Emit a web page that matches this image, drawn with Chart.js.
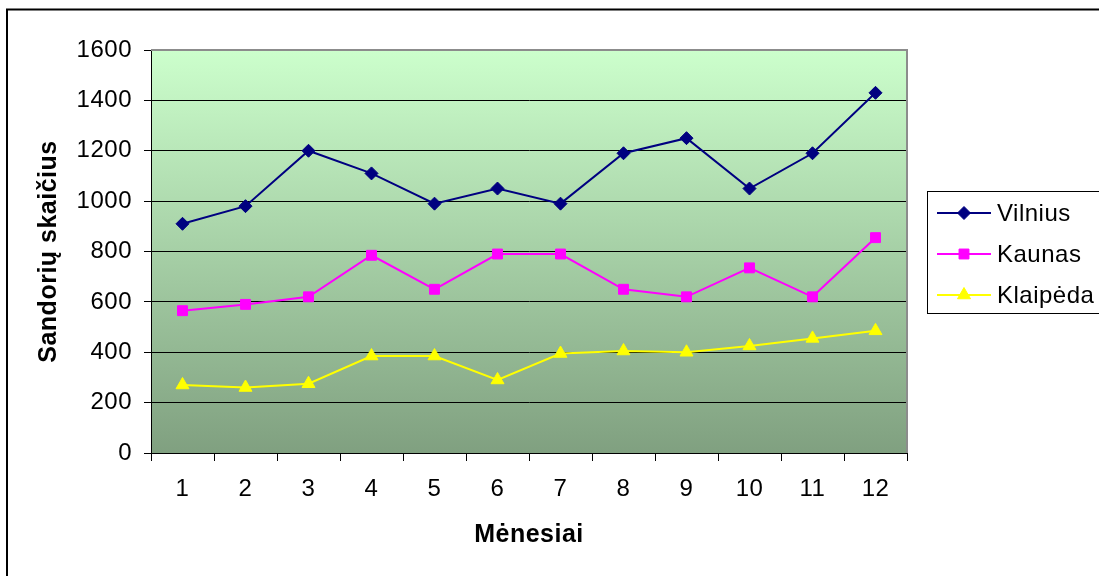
<!DOCTYPE html>
<html lang="lt">
<head>
<meta charset="utf-8">
<title>Sandorių skaičius pagal mėnesius</title>
<script src="https://cdn.jsdelivr.net/npm/chart.js@4/dist/chart.umd.min.js"></script>
<style>
  html, body { margin: 0; padding: 0; background: #ffffff; }
  #wrap { width: 1099px; height: 576px; }
</style>
</head>
<body>
<div id="wrap"><canvas id="chart" width="1099" height="576"></canvas></div>
<script>
// Months and monthly deal counts per city
const months = ['1', '2', '3', '4', '5', '6', '7', '8', '9', '10', '11', '12'];
const vilnius = [910, 980, 1200, 1110, 990, 1050, 990, 1190, 1250, 1050, 1190, 1430];
const kaunas = [565, 590, 620, 785, 650, 790, 790, 650, 620, 735, 620, 855];
const klaipeda = [270, 260, 275, 385, 385, 290, 395, 405, 400, 425, 455, 485];
const yTicks = [0, 200, 400, 600, 800, 1000, 1200, 1400, 1600];

const FONT = '"Liberation Sans", Arial, sans-serif';

// Outer frame, gradient plot background and grey plot border
const framePlugin = {
  id: 'frame',
  beforeDraw(chart) {
    const ctx = chart.ctx;
    const a = chart.chartArea;
    // slightly wider letter spacing for all chart text
    ctx.letterSpacing = '0.5px';
    ctx.save();
    ctx.fillStyle = '#ffffff';
    ctx.fillRect(0, 0, chart.width, chart.height);
    ctx.strokeStyle = '#000000';
    ctx.lineWidth = 2;
    ctx.strokeRect(7, 9.5, chart.width + 50, chart.height + 50);
    const g = ctx.createLinearGradient(0, a.top, 0, a.bottom);
    g.addColorStop(0, '#ccffcc');
    g.addColorStop(1, '#80a080');
    ctx.fillStyle = g;
    ctx.fillRect(a.left, a.top, a.right - a.left, a.bottom - a.top);
    ctx.restore();
  },
  beforeDatasetsDraw(chart) {
    const ctx = chart.ctx;
    const a = chart.chartArea;
    ctx.save();
    ctx.strokeStyle = '#8c8c8c';
    ctx.lineWidth = 2;
    ctx.beginPath();
    ctx.moveTo(a.left, a.top);
    ctx.lineTo(a.right, a.top);
    ctx.lineTo(a.right, a.bottom);
    ctx.stroke();
    ctx.restore();
  }
};

// Boxed legend at the right, built from the datasets
const legendPlugin = {
  id: 'boxLegend',
  afterDraw(chart) {
    const ctx = chart.ctx;
    const box = { x: 927.5, y: 191.5, w: 300, h: 122 };
    ctx.save();
    ctx.strokeStyle = '#000000';
    ctx.lineWidth = 1;
    ctx.strokeRect(box.x, box.y, box.w, box.h);
    const rows = [213, 254, 295];
    chart.data.datasets.forEach((ds, i) => {
      const y = rows[i];
      ctx.strokeStyle = ds.borderColor;
      ctx.lineWidth = ds.borderWidth;
      ctx.beginPath();
      ctx.moveTo(937, y);
      ctx.lineTo(991, y);
      ctx.stroke();
      ctx.fillStyle = ds.pointBackgroundColor;
      ctx.strokeStyle = ds.pointBorderColor;
      ctx.lineWidth = 1;
      Chart.helpers.drawPoint(ctx, {
        pointStyle: ds.pointStyle,
        radius: ds.pointRadius,
        rotation: 0,
        borderWidth: 1
      }, 964, y);
      ctx.fillStyle = '#000000';
      ctx.font = '24px ' + FONT;
      ctx.textAlign = 'left';
      ctx.textBaseline = 'middle';
      ctx.fillText(ds.label, 997, y + 1);
    });
    ctx.restore();
  }
};

new Chart(document.getElementById('chart'), {
  type: 'line',
  data: {
    labels: months,
    datasets: [
      {
        label: 'Vilnius',
        data: vilnius,
        borderColor: '#000080',
        backgroundColor: '#000080',
        borderWidth: 2,
        pointStyle: 'rectRot',
        pointRadius: 6.5,
        pointBackgroundColor: '#000080',
        pointBorderColor: '#000080',
        pointBorderWidth: 1,
        tension: 0
      },
      {
        label: 'Kaunas',
        data: kaunas,
        borderColor: '#ff00ff',
        backgroundColor: '#ff00ff',
        borderWidth: 2,
        pointStyle: 'rect',
        pointRadius: 7,
        pointBackgroundColor: '#ff00ff',
        pointBorderColor: '#ff00ff',
        pointBorderWidth: 1,
        tension: 0
      },
      {
        label: 'Klaipėda',
        data: klaipeda,
        borderColor: '#ffff00',
        backgroundColor: '#ffff00',
        borderWidth: 2,
        pointStyle: 'triangle',
        pointRadius: 7.5,
        pointBackgroundColor: '#ffff00',
        pointBorderColor: '#ffff00',
        pointBorderWidth: 1,
        tension: 0
      }
    ]
  },
  options: {
    responsive: false,
    animation: false,
    devicePixelRatio: 1,
    layout: { padding: { top: 50, right: 192, left: 0, bottom: 0 } },
    plugins: {
      legend: { display: false },
      tooltip: { enabled: false }
    },
    scales: {
      x: {
        type: 'category',
        offset: true,
        grid: {
          offset: true,
          drawOnChartArea: false,
          drawTicks: true,
          tickLength: 8,
          color: '#000000',
          lineWidth: 1
        },
        border: { display: true, color: '#000000', width: 1 },
        ticks: {
          color: '#000000',
          font: { family: FONT, size: 24 },
          padding: 14,
          maxRotation: 0,
          autoSkip: false
        },
        title: {
          display: true,
          text: 'Mėnesiai',
          color: '#000000',
          font: { family: FONT, size: 25, weight: 'bold' },
          padding: { top: 0, bottom: 26 }
        },
        afterFit(scale) { scale.height = 123; }
      },
      y: {
        type: 'linear',
        min: 0,
        max: 1600,
        afterBuildTicks(scale) { scale.ticks = yTicks.map(v => ({ value: v })); },
        grid: {
          drawTicks: true,
          tickLength: 7,
          color: '#000000',
          lineWidth: 1
        },
        border: { display: true, color: '#000000', width: 1 },
        ticks: {
          color: '#000000',
          font: { family: FONT, size: 24 },
          padding: 12,
          callback: (v) => String(v)
        },
        title: {
          display: true,
          text: 'Sandorių skaičius',
          color: '#000000',
          font: { family: FONT, size: 25, weight: 'bold' },
          padding: { top: 34, bottom: 0 }
        },
        afterFit(scale) { scale.width = 151; }
      }
    }
  },
  plugins: [framePlugin, legendPlugin]
});
</script>
</body>
</html>
